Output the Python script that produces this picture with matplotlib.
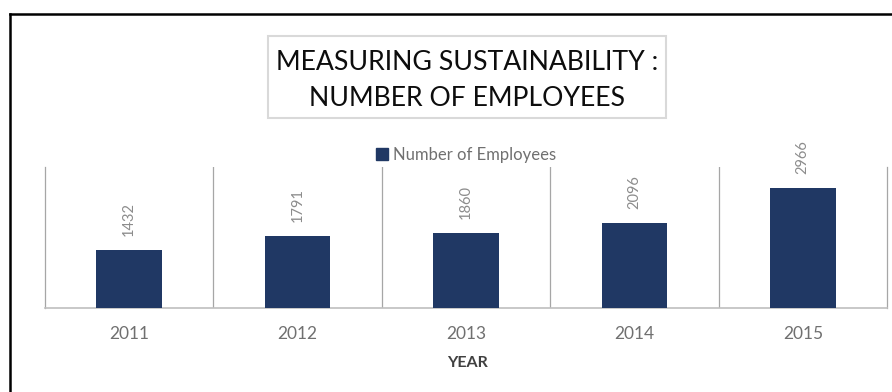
import matplotlib.pyplot as plt
from matplotlib.lines import Line2D
from matplotlib.patches import Rectangle

years = ['2011', '2012', '2013', '2014', '2015']
employees = [1432, 1791, 1860, 2096, 2966]

bar_color = '#203864'
grey_text = '#707070'
grid_grey = '#a6a6a6'

plt.rcParams['font.family'] = ['Lato', 'DejaVu Sans']

W, H = 892, 392
fig = plt.figure(figsize=(W / 100, H / 100), dpi=100)
fig.patch.set_facecolor('white')

# axes placed in pixel terms
left, right, bottom, top = 45, 887, 307.7, 167
ax = fig.add_axes([left / W, 1 - bottom / H, (right - left) / W, (bottom - top) / H])

x = list(range(len(years)))
ax.bar(x, employees, width=0.39, color=bar_color, zorder=3)
ax.set_xlim(-0.5, len(years) - 0.5)
ax.set_ylim(0, 3500)

# category separators
for b in range(1, len(years)):
    ax.axvline(b - 0.5, color=grid_grey, linewidth=0.9, zorder=1)

ax.spines['top'].set_visible(False)
for s in ['left', 'right']:
    ax.spines[s].set_color(grid_grey)
    ax.spines[s].set_linewidth(0.9)
ax.spines['bottom'].set_color('#bfbfbf')
ax.spines['bottom'].set_linewidth(1.2)

ax.set_yticks([])
ax.set_xticks(x)
ax.set_xticklabels(years, fontsize=12.5, color=grey_text)
ax.tick_params(axis='x', length=0, pad=13)

# value labels
for xi, v in zip(x, employees):
    ax.annotate(str(v), (xi, v), xytext=(0, 14), textcoords='offset pixels',
                rotation=90, ha='center', va='bottom', fontsize=10.5,
                color='#8c8c8c')

# axis title
fig.text(467 / W, 1 - 363 / H, 'YEAR', ha='center', va='center',
         fontsize=11.5, fontweight='bold', color='#404040')

# legend
handle = Rectangle((0, 0), 1, 1, color=bar_color)
fig.legend([handle], ['Number of Employees'], loc='center',
           bbox_to_anchor=(466 / W, 1 - 155 / H), frameon=False,
           fontsize=12, labelcolor=grey_text, handlelength=0.7,
           handleheight=0.7, handletextpad=0.3, borderpad=0)

# title box
fig.patches.append(Rectangle((268 / W, 1 - 118 / H), (666 - 268) / W, (118 - 36) / H,
                             transform=fig.transFigure, facecolor='white',
                             edgecolor='#d9d9d9', linewidth=1.5))
fig.text(467 / W, 1 - 63 / H, 'MEASURING SUSTAINABILITY :', ha='center',
         va='center', fontsize=19.2, color='#0d0d0d')
fig.text(467 / W, 1 - 98 / H, 'NUMBER OF EMPLOYEES', ha='center',
         va='center', fontsize=19.2, color='#0d0d0d')

# outer black frame (left and top edges)
fig.add_artist(Line2D([9.5 / W, 9.5 / W], [0, 1 - 13.5 / H], color='black',
                      linewidth=1.8, transform=fig.transFigure))
fig.add_artist(Line2D([9.5 / W, 1], [1 - 13.5 / H, 1 - 13.5 / H], color='black',
                      linewidth=1.8, transform=fig.transFigure))

fig.savefig('out.png', dpi=100)
